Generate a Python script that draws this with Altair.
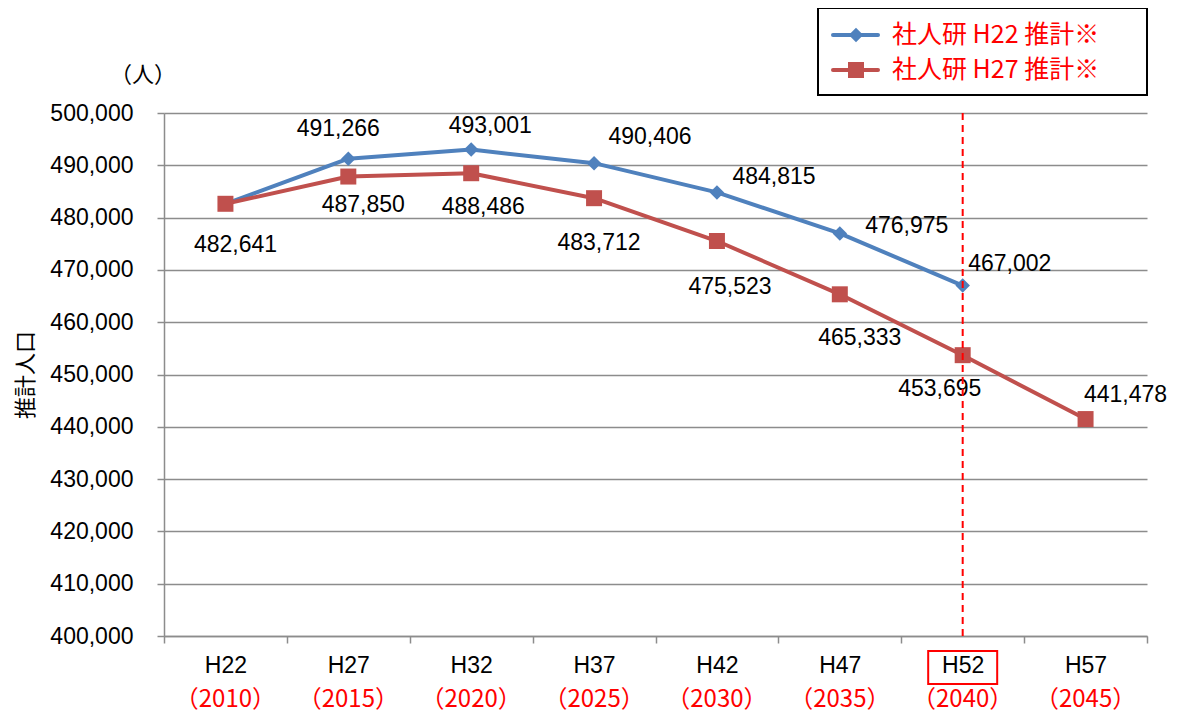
import altair as alt
import pandas as pd

# ---- data ----
periods = ["H22", "H27", "H32", "H37", "H42", "H47", "H52", "H57"]
years = ["（2010）", "（2015）", "（2020）", "（2025）", "（2030）", "（2035）", "（2040）", "（2045）"]
series_names = ["社人研 H22 推計※", "社人研 H27 推計※"]
h22_values = [482641, 491266, 493001, 490406, 484815, 476975, 467002, None]
h27_values = [482641, 487850, 488486, 483712, 475523, 465333, 453695, 441478]
y_ticks = [400000, 410000, 420000, 430000, 440000, 450000, 460000, 470000, 480000, 490000, 500000]
highlight_period = "H52"

# ---- styles ----
BLUE = "#4F81BD"
RED = "#C0504D"
GRID = "#8C8C8C"
NUM_FONT = "Liberation Sans"
JP_FONT = "Noto Sans CJK JP"
W, H = 983, 523

rows = []
for p, v in zip(periods, h22_values):
    if v is not None:
        rows.append({"period": p, "series": series_names[0], "value": v})
for p, v in zip(periods, h27_values):
    if v is not None:
        rows.append({"period": p, "series": series_names[1], "value": v})
df = pd.DataFrame(rows)
df_years = pd.DataFrame({"period": periods, "year": years})

x_enc = alt.X(
    "period:N",
    sort=periods,
    scale=alt.Scale(type="band", domain=periods, paddingInner=0, paddingOuter=0),
    axis=alt.Axis(
        title=None, labelAngle=0, labelFont=NUM_FONT, labelFontSize=23, labelColor="black",
        labelBaseline="middle", labelPadding=22, tickBand="extent", tickSize=7,
        tickColor=GRID, domainColor=GRID, tickWidth=1.5, domainWidth=1.5, grid=False,
    ),
)
y_scale = alt.Scale(domain=[400000, 500000], nice=False, zero=False)
y_enc = alt.Y(
    "value:Q",
    scale=y_scale,
    axis=alt.Axis(
        values=y_ticks, format=",d", labelFont=NUM_FONT, labelFontSize=23, labelColor="black",
        labelPadding=24, tickSize=7, tickColor=GRID, domainColor=GRID, tickWidth=1.5,
        domainWidth=1.5, gridColor=GRID, gridWidth=1.5,
        title="推計人口", titleFont=JP_FONT, titleFontSize=22, titleFontWeight="normal",
        titleColor="black", titleAngle=270, titleX=-139, titleY=H / 2,
        titleAlign="center", titleBaseline="middle",
    ),
)

base = alt.Chart(df)


def series_layers(name, color, shape, size):
    d = base.transform_filter(alt.datum.series == name)
    line = d.mark_line(color=color, strokeWidth=4, strokeCap="round", strokeJoin="round").encode(x=x_enc, y=y_enc)
    pts = d.mark_point(shape=shape, size=size, filled=True, color=color, opacity=1).encode(x=x_enc, y=y_enc)
    return [line, pts]


layers = []
layers += series_layers(series_names[0], BLUE, "diamond", 210)
layers += series_layers(series_names[1], RED, "square", 256)

# data labels (series index, period, dx, dy)
label_offsets = [
    (0, "H22", 10, 41), (0, "H27", -10, -30), (0, "H32", 19, -24), (0, "H37", 56, -26),
    (0, "H42", 57, -15), (0, "H47", 67, -7), (0, "H52", 47, -22),
    (1, "H27", 15, 28), (1, "H32", 12, 34), (1, "H37", 5, 45), (1, "H42", 13, 46),
    (1, "H47", 20, 44), (1, "H52", -23, 34), (1, "H57", 40, -24),
]
for si, p, dx, dy in label_offsets:
    layers.append(
        base.transform_filter((alt.datum.series == series_names[si]) & (alt.datum.period == p))
        .mark_text(font=NUM_FONT, fontSize=23, color="black", dx=dx, dy=dy, align="center", baseline="middle")
        .encode(x=x_enc, y=y_enc, text=alt.Text("value:Q", format=",d"))
    )

# red dashed vertical line at highlighted period
hl = alt.Chart(pd.DataFrame({"period": [highlight_period]}))
layers.append(
    hl.mark_rule(color="#FF0000", strokeWidth=2, strokeDash=[7, 5]).encode(
        x=x_enc, y=alt.value(0), y2=alt.value(H)
    )
)
# red box around highlighted x label
layers.append(
    hl.mark_point(shape="M-1,-0.48H1V0.48H-1Z", size=69 * 69, filled=False, color="#FF0000",
                  strokeWidth=2, opacity=1).encode(x=x_enc, y=alt.value(554.5))
)

# year row under x labels
layers.append(
    alt.Chart(df_years).mark_text(font=JP_FONT, fontSize=24, color="#FF0000", baseline="middle")
    .encode(x=x_enc, y=alt.value(587), text="year:N")
)

# unit label
layers.append(
    alt.Chart(pd.DataFrame({"t": ["（人）"]})).mark_text(font=JP_FONT, fontSize=22, color="black", baseline="middle")
    .encode(x=alt.value(-21), y=alt.value(-38), text="t:N")
)

# legend (drawn manually to show line + marker)
legend_df = pd.DataFrame({"series": series_names})
layers.append(
    alt.Chart(legend_df.head(1)).mark_rect(fill="white", stroke="black", strokeWidth=2).encode(
        x=alt.value(654), x2=alt.value(983), y=alt.value(-105), y2=alt.value(-18)
    )
)
for i, (name, color, shape, size) in enumerate(
    [(series_names[0], BLUE, "diamond", 210), (series_names[1], RED, "square", 256)]
):
    ly = -78 + i * 35
    ld = alt.Chart(legend_df).transform_filter(alt.datum.series == name)
    layers.append(ld.mark_rule(color=color, strokeWidth=4, strokeCap="round").encode(
        x=alt.value(669), x2=alt.value(714), y=alt.value(ly)))
    layers.append(ld.mark_point(shape=shape, size=size, filled=True, color=color, opacity=1).encode(
        x=alt.value(692), y=alt.value(ly)))
    layers.append(ld.mark_text(font=JP_FONT, fontSize=25, color="#FF0000", align="left", baseline="middle").encode(
        x=alt.value(728), y=alt.value(ly), text="series:N"))

chart = (
    alt.layer(*layers)
    .properties(
        width=W, height=H,
        padding={"left": 156, "top": 105, "right": 24, "bottom": 77},
        autosize=alt.AutoSizeParams(type="none"),
    )
    .configure_view(stroke=None)
)

chart.save("out.html", embed_options={"renderer": "svg", "actions": False})
